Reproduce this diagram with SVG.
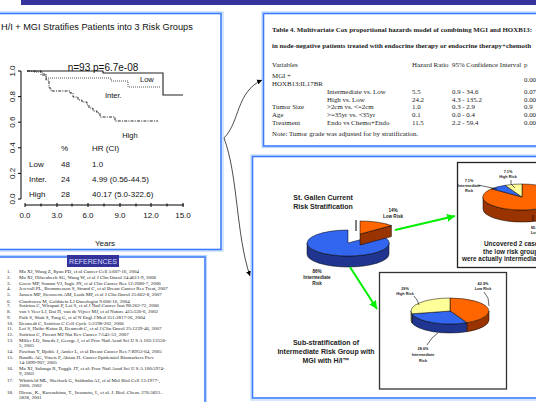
<svg xmlns="http://www.w3.org/2000/svg" width="536" height="402" viewBox="0 0 536 402">
<defs>
<marker id="ab" markerWidth="6" markerHeight="6" refX="5" refY="3" orient="auto" markerUnits="userSpaceOnUse"><path d="M0,0.5 L5,3 L0,5.5 Z" fill="#000"/></marker>
<marker id="ag" markerWidth="10" markerHeight="10" refX="8" refY="4" orient="auto" markerUnits="userSpaceOnUse"><path d="M0,0 L8,4 L0,8 Z" fill="#00ee00"/></marker>
</defs>
<style>
.pan{fill:#fff;stroke:#3a7bff;stroke-width:1.6}
.pano{fill:none;stroke:#bcd6ff;stroke-width:1.2}
.s{font-family:"Liberation Sans",Arial,sans-serif;fill:#111}
.t{font-family:"Liberation Serif","Times New Roman",serif;fill:#222}
.tb{font-family:"Liberation Serif","Times New Roman",serif;font-weight:bold;fill:#222}
.pb{font-family:"Liberation Sans",Arial,sans-serif;font-weight:bold;fill:#222}
.ax{stroke:#000;stroke-width:1;fill:none}
.pie{stroke:#000;stroke-width:0.5}
.ld{stroke:#000;stroke-width:0.6;fill:none}
</style>
<rect width="536" height="402" fill="#fff"/>
<rect x="21" y="0" width="515" height="5" fill="#333399"/>

<g id="km-panel">
<rect class="pano" x="-5" y="12" width="228" height="239"/>
<rect class="pan" x="-5" y="13.5" width="226" height="236"/>
<text class="s" x="1" y="30" font-size="9.2">H/I + MGI Stratifies Patients into 3 Risk Groups</text>
<path class="ax" d="M21,71 V199 M18,71 H21 M18,96.6 H21 M18,122.2 H21 M18,147.8 H21 M18,173.4 H21 M18,199 H21"/>
<g class="s" font-size="8" text-anchor="middle">
<text transform="translate(15,71) rotate(-90)">1.0</text>
<text transform="translate(15,96.6) rotate(-90)">0.8</text>
<text transform="translate(15,122.2) rotate(-90)">0.6</text>
<text transform="translate(15,147.8) rotate(-90)">0.4</text>
<text transform="translate(15,173.4) rotate(-90)">0.2</text>
<text transform="translate(15,199) rotate(-90)">0.0</text>
</g>
<path class="ax" d="M25,205 H184 M25,203 V207 M41,203.5 V206.5 M57,203 V207 M72,203.5 V206.5 M88,203 V207 M104,203.5 V206.5 M120,203 V207 M136,203.5 V206.5 M151,203 V207 M167,203.5 V206.5 M183,203 V207"/>
<g class="s" font-size="8" text-anchor="middle">
<text x="25" y="218">0.0</text><text x="57" y="218">3.0</text><text x="88" y="218">6.0</text><text x="120" y="218">9.0</text><text x="151" y="218">12.0</text><text x="183" y="218">15.0</text>
</g>
<text class="s" x="105" y="246" font-size="8" text-anchor="middle">Years</text>
<path d="M27,71 H103 V73 H163 V95 H183" fill="none" stroke="#222" stroke-width="1.1"/>
<path d="M27,71 H33 V72 H43 V74 H46 V78 H111 V81 H128 V87 H160" fill="none" stroke="#555" stroke-width="1" stroke-dasharray="1,1"/>
<path d="M27,71 H41 V75 H46 V80 H49 V88 H51 V91 H70 V93 H73 V97 H78 V100 H82 V102 H87 V105 H89 V108 H93 V111 H97 V113 H100 V117 H115 V121 H158" fill="none" stroke="#111" stroke-width="0.9" stroke-dasharray="3,1.2,1,1.2"/>
<text class="s" x="103" y="71" font-size="10" text-anchor="middle">n=93 p=6.7e-08</text>
<text class="s" x="140" y="82" font-size="7.5">Low</text>
<text class="s" x="105" y="98" font-size="7.5">Inter.</text>
<text class="s" x="130" y="138" font-size="7.5" text-anchor="middle">High</text>
<g class="s" font-size="8">
<text x="61" y="151">%</text><text x="92" y="151">HR (CI)</text>
<text x="29" y="167">Low</text><text x="61" y="167">48</text><text x="92" y="167">1.0</text>
<text x="29" y="182">Inter.</text><text x="61" y="182">24</text><text x="92" y="182">4.99  (0.56-44.5)</text>
<text x="29" y="197">High</text><text x="61" y="197">28</text><text x="92" y="197">40.17 (5.0-322.6)</text>
</g>
</g>

<g id="table-panel">
<rect class="pano" x="262" y="12" width="290" height="135.5"/>
<rect class="pan" x="263.5" y="13.5" width="290" height="132.5"/>
<text class="tb" x="272" y="32" font-size="6.9">Table 4. Multivariate Cox proportional hazards model of combining MGI and HOXB13:</text>
<text class="tb" x="272" y="48" font-size="6.9">in node-negative patients treated with endocrine therapy or endocrine therapy+chemoth</text>
<g class="t" font-size="6.9">
<text x="272" y="67">Variables</text><text x="412" y="67">Hazard Ratio</text><text x="452" y="67">95% Confidence Interval</text><text x="524" y="67">p</text>
<text x="272" y="78">MGI +</text><text x="272" y="86">HOXB13:IL17BR</text><text x="524" y="82">0.00</text>
<text x="327" y="94">Intermediate vs. Low</text><text x="412" y="94">5.5</text><text x="452" y="94">0.9 - 34.6</text><text x="524" y="94">0.07</text>
<text x="327" y="101.5">High vs. Low</text><text x="412" y="101.5">24.2</text><text x="452" y="101.5">4.3 - 135.2</text><text x="524" y="101.5">0.00</text>
<text x="272" y="109">Tumor Size</text><text x="327" y="109">&gt;2cm vs. &lt;=2cm</text><text x="412" y="109">1.0</text><text x="452" y="109">0.3 - 2.9</text><text x="524" y="109">0.9</text>
<text x="272" y="117">Age</text><text x="327" y="117">&gt;=35yr vs. &lt;35yr</text><text x="412" y="117">0.1</text><text x="452" y="117">0.0 - 0.4</text><text x="524" y="117">0.00</text>
<text x="272" y="125">Treatment</text><text x="327" y="125">Endo vs Chemo+Endo</text><text x="412" y="125">11.5</text><text x="452" y="125">2.2 - 59.4</text><text x="524" y="125">0.00</text>
<text x="272" y="136">Note: Tumor grade was adjusted for by stratification.</text>
</g>
</g>

<g id="refs-panel">
<rect class="pano" x="-5" y="255.5" width="211.5" height="160"/>
<rect class="pan" x="-5" y="257" width="210" height="160"/>
<rect x="67" y="255" width="52" height="12" fill="#333399"/>
<text x="93" y="264" font-size="7" text-anchor="middle" font-family="Liberation Sans, Arial, sans-serif" fill="#d8d8ff">REFERENCES</text>
<g class="t" font-size="5">
<text x="7" y="273">1.</text><text x="19" y="273">Ma XJ, Wang Z, Ryan PD, et al Cancer Cell 5:607-16, 2004</text>
<text x="7" y="279">2.</text><text x="19" y="279">Ma XJ, Hilsenbeck SG, Wang W, et al J Clin Oncol 24:4611-9, 2006</text>
<text x="7" y="284.5">3.</text><text x="19" y="284.5">Goetz MP, Suman VJ, Ingle JN, et al Clin Cancer Res 12:2080-7, 2006</text>
<text x="7" y="289.5">4.</text><text x="19" y="289.5">Jerevall PL, Brommesson S, Strand C, et al Breast Cancer Res Treat, 2007</text>
<text x="7" y="295.5">5.</text><text x="19" y="295.5">Jansen MP, Sieuwerts AM, Look MP, et al J Clin Oncol 25:662-8, 2007</text>
<text x="7" y="302.5">6.</text><text x="19" y="302.5">Cianfrocca M, Goldstein LJ Oncologist 9:606-16, 2004</text>
<text x="7" y="307">7.</text><text x="19" y="307">Sotiriou C, Wirapati P, Loi S, et al J Natl Cancer Inst 98:262-72, 2006</text>
<text x="7" y="312.5">8.</text><text x="19" y="312.5">van 't Veer LJ, Dai H, van de Vijver MJ, et al Nature 415:530-6, 2002</text>
<text x="7" y="318.5">9.</text><text x="19" y="318.5">Paik S, Shak S, Tang G, et al N Engl J Med 351:2817-26, 2004</text>
<text x="7" y="325">10.</text><text x="19" y="325">Desmedt C, Sotiriou C Cell Cycle 5:2198-202, 2006</text>
<text x="7" y="330">11.</text><text x="19" y="330">Loi S, Haibe-Kains B, Desmedt C, et al J Clin Oncol 25:1239-46, 2007</text>
<text x="7" y="336">12.</text><text x="19" y="336">Sotiriou C, Piccart MJ  Nat Rev Cancer 7:545-53, 2007</text>
<text x="7" y="341.5">13.</text><text x="19" y="341.5">Miller LD, Smeds J, George J, et al Proc Natl Acad Sci U S A 102:13550-</text>
<text x="19" y="347">5, 2005</text>
<text x="7" y="352.5">14.</text><text x="19" y="352.5">Pawitan Y, Bjohle J, Amler L, et al Breast Cancer Res 7:R953-64, 2005</text>
<text x="7" y="359">15.</text><text x="19" y="359">Rundle AG, Vineis P, Ahsan H. Cancer Epidemiol Biomarkers Prev</text>
<text x="19" y="364">14:1899-907, 2005</text>
<text x="7" y="370">16.</text><text x="19" y="370">Ma XJ, Salunga R, Tuggle JT, et al: Proc Natl Acad Sci U S A 100:5974-</text>
<text x="19" y="375">9, 2003</text>
<text x="7" y="381.5">17.</text><text x="19" y="381.5">Whitfield ML, Sherlock G, Saldanha AJ, et al Mol Biol Cell 13:1977-,</text>
<text x="19" y="387">2000; 2002</text>
<text x="7" y="393.5">18.</text><text x="19" y="393.5">Hirose, K., Kawashima, T., Iwamoto, I., et al.  J. Biol. Chem. 276:5821–</text>
<text x="19" y="398.5">5828, 2001</text>
</g>
</g>

<g id="risk-panel">
<rect class="pano" x="251" y="155" width="300" height="245"/>
<rect class="pan" x="252.5" y="156.5" width="300" height="241.5"/>
<text class="pb" x="323" y="200" font-size="7" text-anchor="middle">St. Gallen Current</text>
<text class="pb" x="323" y="209" font-size="7" text-anchor="middle">Risk Stratification</text>
<text class="pb" x="326" y="345" font-size="7" text-anchor="middle">Sub-stratification of</text>
<text class="pb" x="326" y="354" font-size="7" text-anchor="middle">Intermediate Risk Group with</text>
<text class="pb" x="326" y="363" font-size="7" text-anchor="middle">MGI with H/I™</text>
</g>

<g id="pie-stgallen">
<path class="pie" d="M389,243 A41,13 0 0 1 307,243 L307,254 A41,13 0 0 0 389,254 Z" fill="#1f3590"/>
<path class="pie" d="M348,243 L379.4,234.6 A41,13 0 1 1 348,230 Z" fill="#3366ee"/>
<path class="pie" d="M360,234 L391.4,225.6 L391.4,236.6 L360,245 Z" fill="#993300"/>
<path class="pie" d="M360,234 L360,221 A41,13 0 0 1 391.4,225.6 Z" fill="#ff6600"/>
<line x1="356" y1="220" x2="356" y2="231" stroke="#000" stroke-width="1"/>
<g class="pb" font-size="4.6" text-anchor="middle">
<text x="393" y="212">14%</text><text x="393" y="218">Low Risk</text>
<text x="317" y="273">86%</text><text x="317" y="279">Intermediate</text><text x="317" y="285">Risk</text>
</g>
</g>

<g id="pie-low">
<rect x="457.5" y="162.5" width="100" height="105" fill="#fff" stroke="#222" stroke-width="1.3"/>
<path class="pie" d="M561,197 A39,13 0 0 1 483,197 L483,209 A39,13 0 0 0 561,209 Z" fill="#993300"/>
<path class="pie" d="M522,197 L522,184 A39,13 0 1 1 491.6,188.8 Z" fill="#ff6600"/>
<path class="pie" d="M522,197 L491.6,188.8 A39,13 0 0 1 505.2,185.3 Z" fill="#3366ee"/>
<path class="pie" d="M522,197 L505.2,185.3 A39,13 0 0 1 522,184 Z" fill="#ffff99"/>
<path class="ld" d="M478,185 L497,189 M511,180 L511,184 L515,188"/>
<g class="pb" font-size="3.8" text-anchor="middle">
<text x="508" y="173">7.1%</text><text x="508" y="178">High Risk</text>
<text x="469" y="182">7.1%</text><text x="469" y="187">Intermediate</text><text x="469" y="192">Risk</text>
</g>
<path class="ld" d="M533,215 L533,221"/>
<g class="pb" font-size="3.8">
<text x="531" y="229">85.7%</text><text x="531" y="234">Low Risk</text>
</g>
<g class="pb" font-size="6.4">
<text x="484" y="246">Uncovered 2 cases</text>
<text x="483" y="253.5">the low risk group th</text>
<text x="462" y="261">were actually intermediate t</text>
</g>
</g>

<g id="pie-sub">
<rect x="379.5" y="272.5" width="127" height="116.5" fill="#fff" stroke="#333" stroke-width="1.3"/>
<path class="pie" d="M489,311 A39,13 0 0 1 466.8,322.7 L466.8,331.7 A39,13 0 0 0 489,320 Z" fill="#993300"/>
<path class="pie" d="M466.8,322.7 A39,13 0 0 1 411.9,313.8 L411.9,322.8 A39,13 0 0 0 466.8,331.7 Z" fill="#1f3590"/>
<path class="pie" d="M411.9,313.8 A39,13 0 0 1 411,311 L411,320 A39,13 0 0 0 411.9,322.8 Z" fill="#99994d"/>
<path class="pie" d="M450,311 L450,298 A39,13 0 0 1 466.8,322.7 Z" fill="#ff6600"/>
<path class="pie" d="M450,311 L466.8,322.7 A39,13 0 0 1 411.9,313.8 Z" fill="#3366ee"/>
<path class="pie" d="M450,311 L411.9,313.8 A39,13 0 0 1 450,298 Z" fill="#ffff99"/>
<path class="ld" d="M414,296 L417,300 L419,305 M484,292 L488,298 L489,306 M427,345 L432,338 L438,333"/>
<g class="pb" font-size="3.8" text-anchor="middle">
<text x="483" y="285">42.9%</text><text x="483" y="290">Low Risk</text>
<text x="405" y="290">29%</text><text x="405" y="295">High Risk</text>
<text x="423" y="350">28.6%</text><text x="423" y="356">Intermediate</text><text x="423" y="362">Risk</text>
</g>
</g>

<g id="connectors">
<path d="M224,138 C240,122 236,92 262,80" fill="none" stroke="#000" stroke-width="0.7" marker-end="url(#ab)"/>
<path d="M224,138 C238,175 236,235 250,276" fill="none" stroke="#000" stroke-width="0.7" marker-end="url(#ab)"/>
<path d="M395,230 L455,216" fill="none" stroke="#00ee00" stroke-width="2" marker-end="url(#ag)"/>
<path d="M350,267 L377,309" fill="none" stroke="#00ee00" stroke-width="2" marker-end="url(#ag)"/>
</g>
</svg>
